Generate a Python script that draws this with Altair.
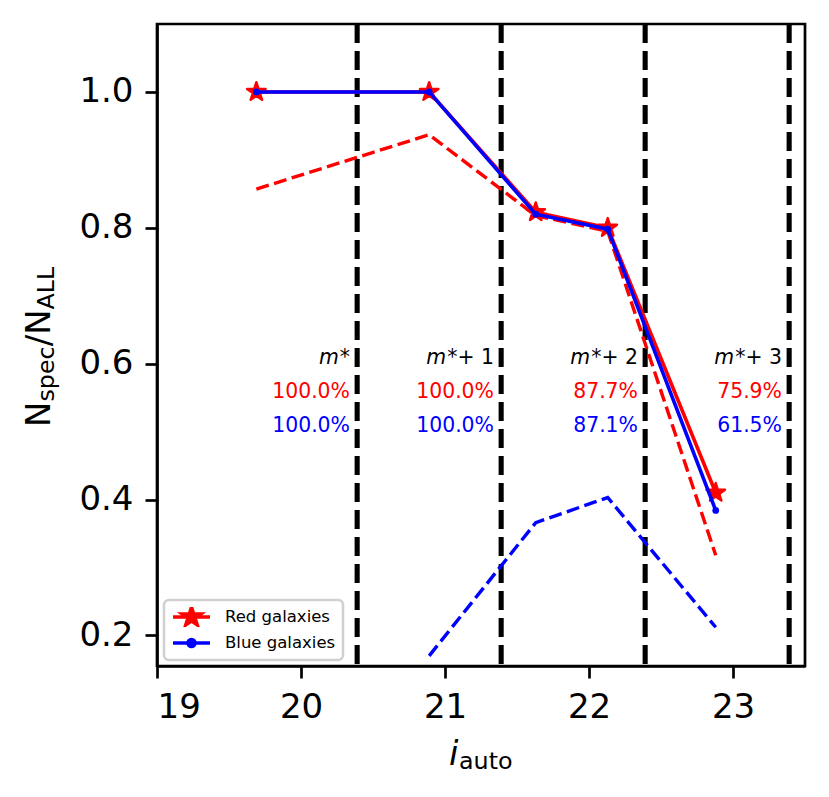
import math
import altair as alt
import pandas as pd

# ---------------- data ----------------
mag_x = [19.69, 20.89, 21.63, 22.13, 22.88]
red_solid = [1.0, 1.0, 0.823, 0.800, 0.410]
blue_solid = [1.0, 1.0, 0.820, 0.798, 0.384]
red_dash = [0.857, 0.937, 0.818, 0.795, 0.318]
blue_dash_x = [20.89, 21.63, 22.13, 22.88]
blue_dash = [0.170, 0.366, 0.403, 0.212]
bounds = [20.39, 21.39, 22.39, 23.39]
mag_tails = ["*", "*+ 1", "*+ 2", "*+ 3"]
red_pct = ["100.0%", "100.0%", "87.7%", "75.9%"]
blue_pct = ["100.0%", "100.0%", "87.1%", "61.5%"]
series = ["Red galaxies", "Blue galaxies"]
series_colors = ["red", "blue"]
x_ticks = [19, 20, 21, 22, 23]
y_ticks = [0.2, 0.4, 0.6, 0.8, 1.0]

# ---------------- styling helpers ----------------
FONT = "DejaVu Sans"
TICK_FS = 34
SUB_FS = TICK_FS * 0.7
ANN_FS = 20.4
LW = 3.6

# approximate DejaVu Sans advance widths (em)
ADV = {"N": 0.748, "/": 0.337, "s": 0.521, "p": 0.635, "e": 0.615, "c": 0.55,
       "A": 0.684, "L": 0.557, "*": 0.5, "+": 0.838, " ": 0.318, "1": 0.636,
       "2": 0.636, "3": 0.636, "i": 0.278}


def text_width(s, fs):
    return sum(ADV.get(ch, 0.6) for ch in s) * fs


def star_path(R, inner=0.381966):
    pts = []
    for k in range(10):
        ang = -math.pi / 2 + k * math.pi / 5
        r = R if k % 2 == 0 else R * inner
        pts.append((r * math.cos(ang), r * math.sin(ang)))
    return "M" + "L".join(f"{x:.4f},{y:.4f}" for x, y in pts) + "Z"


def circle_path(r):
    return (f"M{-r},0A{r},{r} 0 1,0 {r},0A{r},{r} 0 1,0 {-r},0Z")


STAR = star_path(1.0)
LEG_RED = "M-1,0L1,0" + star_path(0.52)
LEG_BLUE = "M-1,0L1,0" + circle_path(0.19)

X = alt.Scale(domain=[19, 23.5], nice=False, zero=False)
Y = alt.Scale(domain=[0.155, 1.1], nice=False, zero=False)
X_AX = alt.Axis(values=x_ticks, format="d", title=None, grid=False)
Y_AX = alt.Axis(values=y_ticks, format=".1f", title=None, grid=False)


def xenc(field):
    return alt.X(field, type="quantitative", scale=X, axis=X_AX)


def yenc(field):
    return alt.Y(field, type="quantitative", scale=Y, axis=Y_AX)


main = pd.DataFrame({"x": mag_x, "red": red_solid, "blue": blue_solid,
                     "red_dash": red_dash})
bdash = pd.DataFrame({"x": blue_dash_x, "y": blue_dash})
bnd = pd.DataFrame({"b": bounds})

ann = pd.DataFrame({"x": [b - 0.05 for b in bounds], "tail": mag_tails,
                    "rp": red_pct, "bp": blue_pct})

rules = alt.Chart(bnd).mark_rule(color="black", strokeWidth=5.1,
                                 strokeDash=[19, 8]).encode(x=xenc("b"))

rdash = alt.Chart(main).mark_line(color="red", strokeWidth=LW * 0.95,
                                  strokeDash=[13, 5.5]).encode(
    x=xenc("x"), y=yenc("red_dash"))
bdash_l = alt.Chart(bdash).mark_line(color="blue", strokeWidth=LW * 0.95,
                                     strokeDash=[13, 5.5]).encode(
    x=xenc("x"), y=yenc("y"))

rline = alt.Chart(main).mark_line(color="red", strokeWidth=LW).encode(
    x=xenc("x"), y=yenc("red"))
rpts = alt.Chart(main).mark_point(shape=STAR, filled=True, color="red",
                                  size=380, stroke="red", strokeWidth=2.4,
                                  strokeJoin="round", opacity=1).encode(
    x=xenc("x"), y=yenc("red"))
bline = alt.Chart(main).mark_line(color="blue", strokeWidth=LW).encode(
    x=xenc("x"), y=yenc("blue"))
bpts = alt.Chart(main).mark_point(shape="circle", filled=True, color="blue",
                                  size=45, opacity=1).encode(
    x=xenc("x"), y=yenc("blue"))

# annotations
tail_txt = alt.Chart(ann).mark_text(align="right", baseline="alphabetic",
                                    font=FONT, fontSize=ANN_FS,
                                    color="black").encode(
    x=xenc("x"), y=alt.YDatum(0.6, scale=Y, axis=Y_AX), text="tail:N")

m_layers = []
for lo, hi in [(0, 1), (1, len(mag_tails))]:
    sub = ann.iloc[lo:hi]
    off = -text_width(mag_tails[lo], ANN_FS) - 1
    m_layers.append(alt.Chart(sub).mark_text(
        align="right", baseline="alphabetic", font=FONT, fontSize=ANN_FS,
        fontStyle="italic", color="black", text="m", dx=off).encode(
        x=xenc("x"), y=alt.YDatum(0.6, scale=Y, axis=Y_AX)))

rp_txt = alt.Chart(ann).mark_text(align="right", baseline="alphabetic",
                                  font=FONT, fontSize=ANN_FS,
                                  color="red").encode(
    x=xenc("x"), y=alt.YDatum(0.55, scale=Y, axis=Y_AX), text="rp:N")
bp_txt = alt.Chart(ann).mark_text(align="right", baseline="alphabetic",
                                  font=FONT, fontSize=ANN_FS,
                                  color="blue").encode(
    x=xenc("x"), y=alt.YDatum(0.5, scale=Y, axis=Y_AX), text="bp:N")

# legend-only layer (no marks drawn; legend comes from explicit scale domain)
leg_df = pd.DataFrame({"series": series, "x": [19.5, 19.5], "y": [0.5, 0.5]})
LEG = alt.Legend(title=None, orient="none", legendX=7, legendY=576,
                 symbolSize=1369, symbolStrokeWidth=LW, labelFont=FONT,
                 labelFontSize=16.5, labelColor="black", labelOffset=13,
                 padding=7, rowPadding=6, clipHeight=20,
                 strokeColor="#d0d0d0", fillColor="white", cornerRadius=5,
                 symbolOpacity=1)
leg = alt.Chart(leg_df).transform_filter("false").mark_point(
    filled=True, opacity=1).encode(
    x=xenc("x"), y=yenc("y"),
    color=alt.Color("series:N", scale=alt.Scale(domain=series, range=series_colors), legend=LEG),
    stroke=alt.Stroke("series:N", scale=alt.Scale(domain=series, range=series_colors), legend=LEG),
    shape=alt.Shape("series:N", scale=alt.Scale(domain=series, range=[LEG_RED, LEG_BLUE]), legend=LEG),
)

# axis titles built from text pieces (math-style sub/superscripts)
one = alt.Data(values=[{"k": 1}])
ytitle_pieces = [("N", TICK_FS, 0), ("spec", SUB_FS, 4), ("/", TICK_FS, 0),
                 ("N", TICK_FS, 0), ("ALL", SUB_FS, 4)]
ylayers = []
ypos = 403.0
for s, fs, sh in ytitle_pieces:
    ylayers.append(alt.Chart(one).mark_text(
        angle=270, align="left", baseline="alphabetic", font=FONT,
        fontSize=fs, color="black", dy=sh, text=s).encode(
        x=alt.value(-107), y=alt.value(ypos)))
    ypos -= text_width(s, fs)

xt_i = alt.Chart(one).mark_text(align="left", baseline="alphabetic", font=FONT,
                                fontSize=TICK_FS, fontStyle="italic",
                                color="black", text="i").encode(
    x=alt.value(292), y=alt.value(741))
xt_sub = alt.Chart(one).mark_text(align="left", baseline="alphabetic",
                                  font=FONT, fontSize=SUB_FS, color="black",
                                  text="auto").encode(
    x=alt.value(302), y=alt.value(745))

chart = alt.layer(
    rules, rdash, bdash_l, rline, rpts, bline, bpts,
    tail_txt, *m_layers, rp_txt, bp_txt, leg, xt_i, xt_sub, *ylayers
).properties(
    width=648, height=642,
    autosize=alt.AutoSizeParams(type="none"),
    padding={"left": 149, "top": 16, "right": 16, "bottom": 110},
).configure_view(
    stroke="black", strokeWidth=2.7
).configure_axis(
    labelFont=FONT, labelFontSize=TICK_FS, labelColor="black",
    tickColor="black", tickWidth=2.7, tickSize=12, domainColor="black",
    domainWidth=2.7, labelPadding=12, grid=False
).configure_legend(
    strokeWidth=2.5
)

chart.save("out.html", embed_options={"renderer": "svg", "actions": False})
